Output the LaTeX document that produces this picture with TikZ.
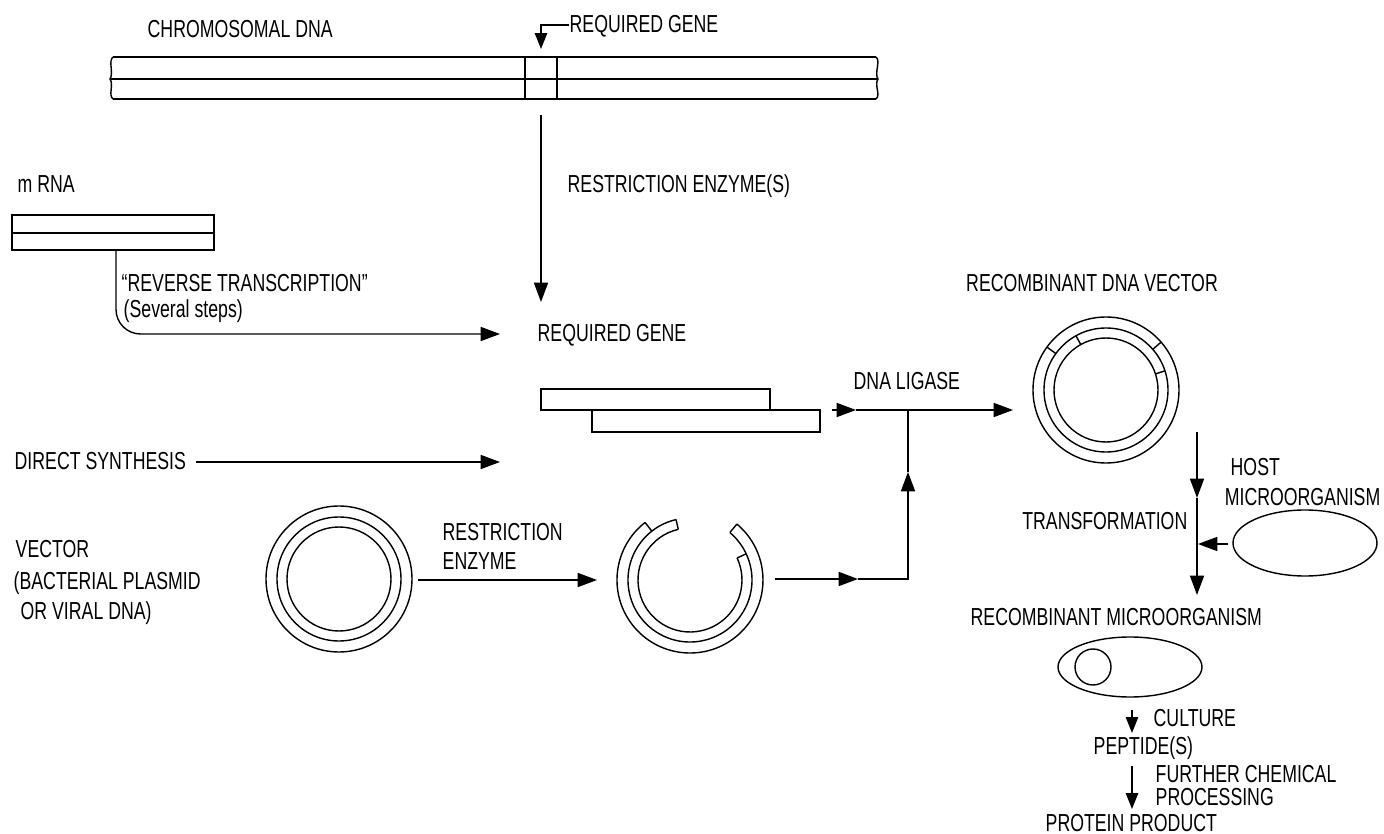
\documentclass[tikz,border=0pt]{standalone}
\usepackage{fontspec}
\setmainfont{Liberation Sans}[FakeStretch=0.72]
\usetikzlibrary{arrows.meta}
\begin{document}
\begin{tikzpicture}[x=0.02cm,y=-0.02cm, line width=0.8pt,
  lbl/.style={inner sep=0pt, anchor=base west, font=\fontsize{14}{16}\selectfont},
  arr/.style={-{Triangle[length=11pt,width=8pt]}},
  sarr/.style={-{Triangle[length=9pt,width=7pt]}}]
\useasboundingbox (0,0) rectangle (1384,834);

% ---------- texts ----------
\node[lbl] (chromlbl) at (147,38) {CHROMOSOMAL DNA};
\node[lbl] (reqtop) at (569,33) {REQUIRED GENE};
\node[lbl] (resS) at (567,193) {RESTRICTION ENZYME(S)};
\node[lbl] (mrnalbl) at (17,193) {m RNA};
\node[lbl] (rt1) at (121,292) {“REVERSE TRANSCRIPTION”};
\node[lbl] (rt2) at (123,318) {(Several steps)};
\node[lbl] (reqmid) at (537,342) {REQUIRED GENE};
\node[lbl] (ligase) at (853,390) {DNA LIGASE};
\node[lbl, anchor=base] (recvec) at (1092,292) {RECOMBINANT DNA VECTOR};
\node[lbl] (direct) at (14,470) {DIRECT SYNTHESIS};
\node[lbl] (vec1) at (15,558) {VECTOR};
\node[lbl] (vec2) at (13,590) {(BACTERIAL PLASMID};
\node[lbl] (vec3) at (20,620) {OR VIRAL DNA)};
\node[lbl] (re1) at (442,541) {RESTRICTION};
\node[lbl] (re2) at (442,570) {ENZYME};
\node[lbl, anchor=base east] (transf) at (1188,530) {TRANSFORMATION};
\node[lbl] (host1) at (1230,476) {HOST};
\node[lbl, anchor=base east] (host2) at (1381,506) {MICROORGANISM};
\node[lbl] (recmo) at (970,625) {RECOMBINANT MICROORGANISM};
\node[lbl] (culture) at (1153,726) {CULTURE};
\node[lbl] (pept) at (1093,754) {PEPTIDE(S)};
\node[lbl] (fc1) at (1155,783) {FURTHER CHEMICAL};
\node[lbl] (fc2) at (1155,806) {PROCESSING};
\node[lbl] (prot) at (1045,831) {PROTEIN PRODUCT};

% ---------- chromosomal DNA bar ----------
\draw (113,57) -- (876,57);
\draw (110,79) -- (878,79);
\draw (113,99) -- (876,99);
\draw (113,57) .. controls (108,61) and (114,73) .. (110,79)
               .. controls (114,85) and (108,95) .. (113,99);
\draw (876,57) .. controls (881,61) and (874,73) .. (878,79)
               .. controls (874,85) and (881,95) .. (876,99);
\draw (525,57) -- (525,99);
\draw (557,57) -- (557,99);

\coordinate (genetop) at (541,49);
\draw[sarr] (reqtop.west |- 0,25) -- (541,25) -- (genetop);

\coordinate (chrbot) at (541,115);
\coordinate (reqin) at (541,302);
\draw[arr] (chrbot) -- (reqin);

% ---------- mRNA ----------
\draw (12,215) rectangle (214,250);
\draw (12,233) -- (214,233);
\coordinate (mrnabot) at (116,250);
\coordinate (rtend) at (500,334);
\draw[arr, rounded corners=14] (mrnabot) |- (rtend);

% ---------- direct synthesis ----------
\coordinate (dsstart) at (196,462);
\coordinate (dsend) at (500,462);
\draw[arr] (dsstart) -- (dsend);

% ---------- gene fragments ----------
\draw (541,389) rectangle (770,410);
\draw (592,410) rectangle (820,432);

% ---------- DNA ligase junction ----------
\coordinate (lig0) at (832,410);
\coordinate (lig1) at (856,410);
\coordinate (ligj) at (908,410);
\coordinate (recin) at (1013,410);
\draw[arr] (lig0) -- (lig1);
\draw[arr] (lig1) -- (recin);

% ---------- vector plasmid ----------
\coordinate (vc) at (339,579);
\draw (vc) circle[radius=73];
\draw (vc) circle[radius=62];
\draw (vc) circle[radius=52];
\coordinate (rea) at (418,580);
\coordinate (reb) at (597,580);
\draw[arr] (rea) -- (reb);

% ---------- cut plasmid ----------
\begin{scope}[shift={(690,580)}, yscale=-1]
  \draw (128:73) arc[start angle=128, end angle=410, radius=73];
  \draw (103:62) arc[start angle=103, end angle=410, radius=62];
  \draw (103:52) arc[start angle=103, end angle=385, radius=52];
  \draw (128:62) -- (128:73);
  \draw (50:62) -- (50:73);
  \draw (103:52) -- (103:62);
  \draw (25:52) -- (25:62);
\end{scope}
\coordinate (cpa) at (775,579);
\coordinate (cpb) at (858,579);
\coordinate (cpc) at (908,579);
\coordinate (cpd) at (908,472);
\draw[arr] (cpa) -- (cpb);
\draw[arr] (cpb) -- (cpc) -- (cpd);
\draw (cpd) -- (ligj);

% ---------- recombinant DNA vector ----------
\begin{scope}[shift={(1106,390)}, yscale=-1]
  \draw (0,0) circle[radius=73];
  \draw (0,0) circle[radius=62];
  \draw (0,0) circle[radius=52];
  \draw (41:62) -- (41:73);
  \draw (144:62) -- (144:73);
  \draw (18:52) -- (18:62);
  \draw (119:52) -- (119:62);
\end{scope}

% ---------- transformation ----------
\coordinate (tra) at (1197,432);
\coordinate (trb) at (1197,498);
\coordinate (trc) at (1197,595);
\draw[arr] (tra) -- (trb);
\draw[arr] (trb) -- (trc);
\draw (1305,543) ellipse[x radius=72, y radius=33];
\coordinate (hosta) at (1228,544);
\coordinate (hostb) at (1198,544);
\draw[arr] (hosta) -- (hostb);

% ---------- recombinant microorganism ----------
\draw (1130,667) ellipse[x radius=72, y radius=30];
\draw (1093,667) circle[radius=18];
\coordinate (cua) at (1132,710);
\coordinate (cub) at (1132,733);
\draw[sarr] (cua) -- (cub);
\coordinate (fca) at (1132,766);
\coordinate (fcb) at (1132,809);
\draw[sarr] (fca) -- (fcb);
\end{tikzpicture}
\end{document}
